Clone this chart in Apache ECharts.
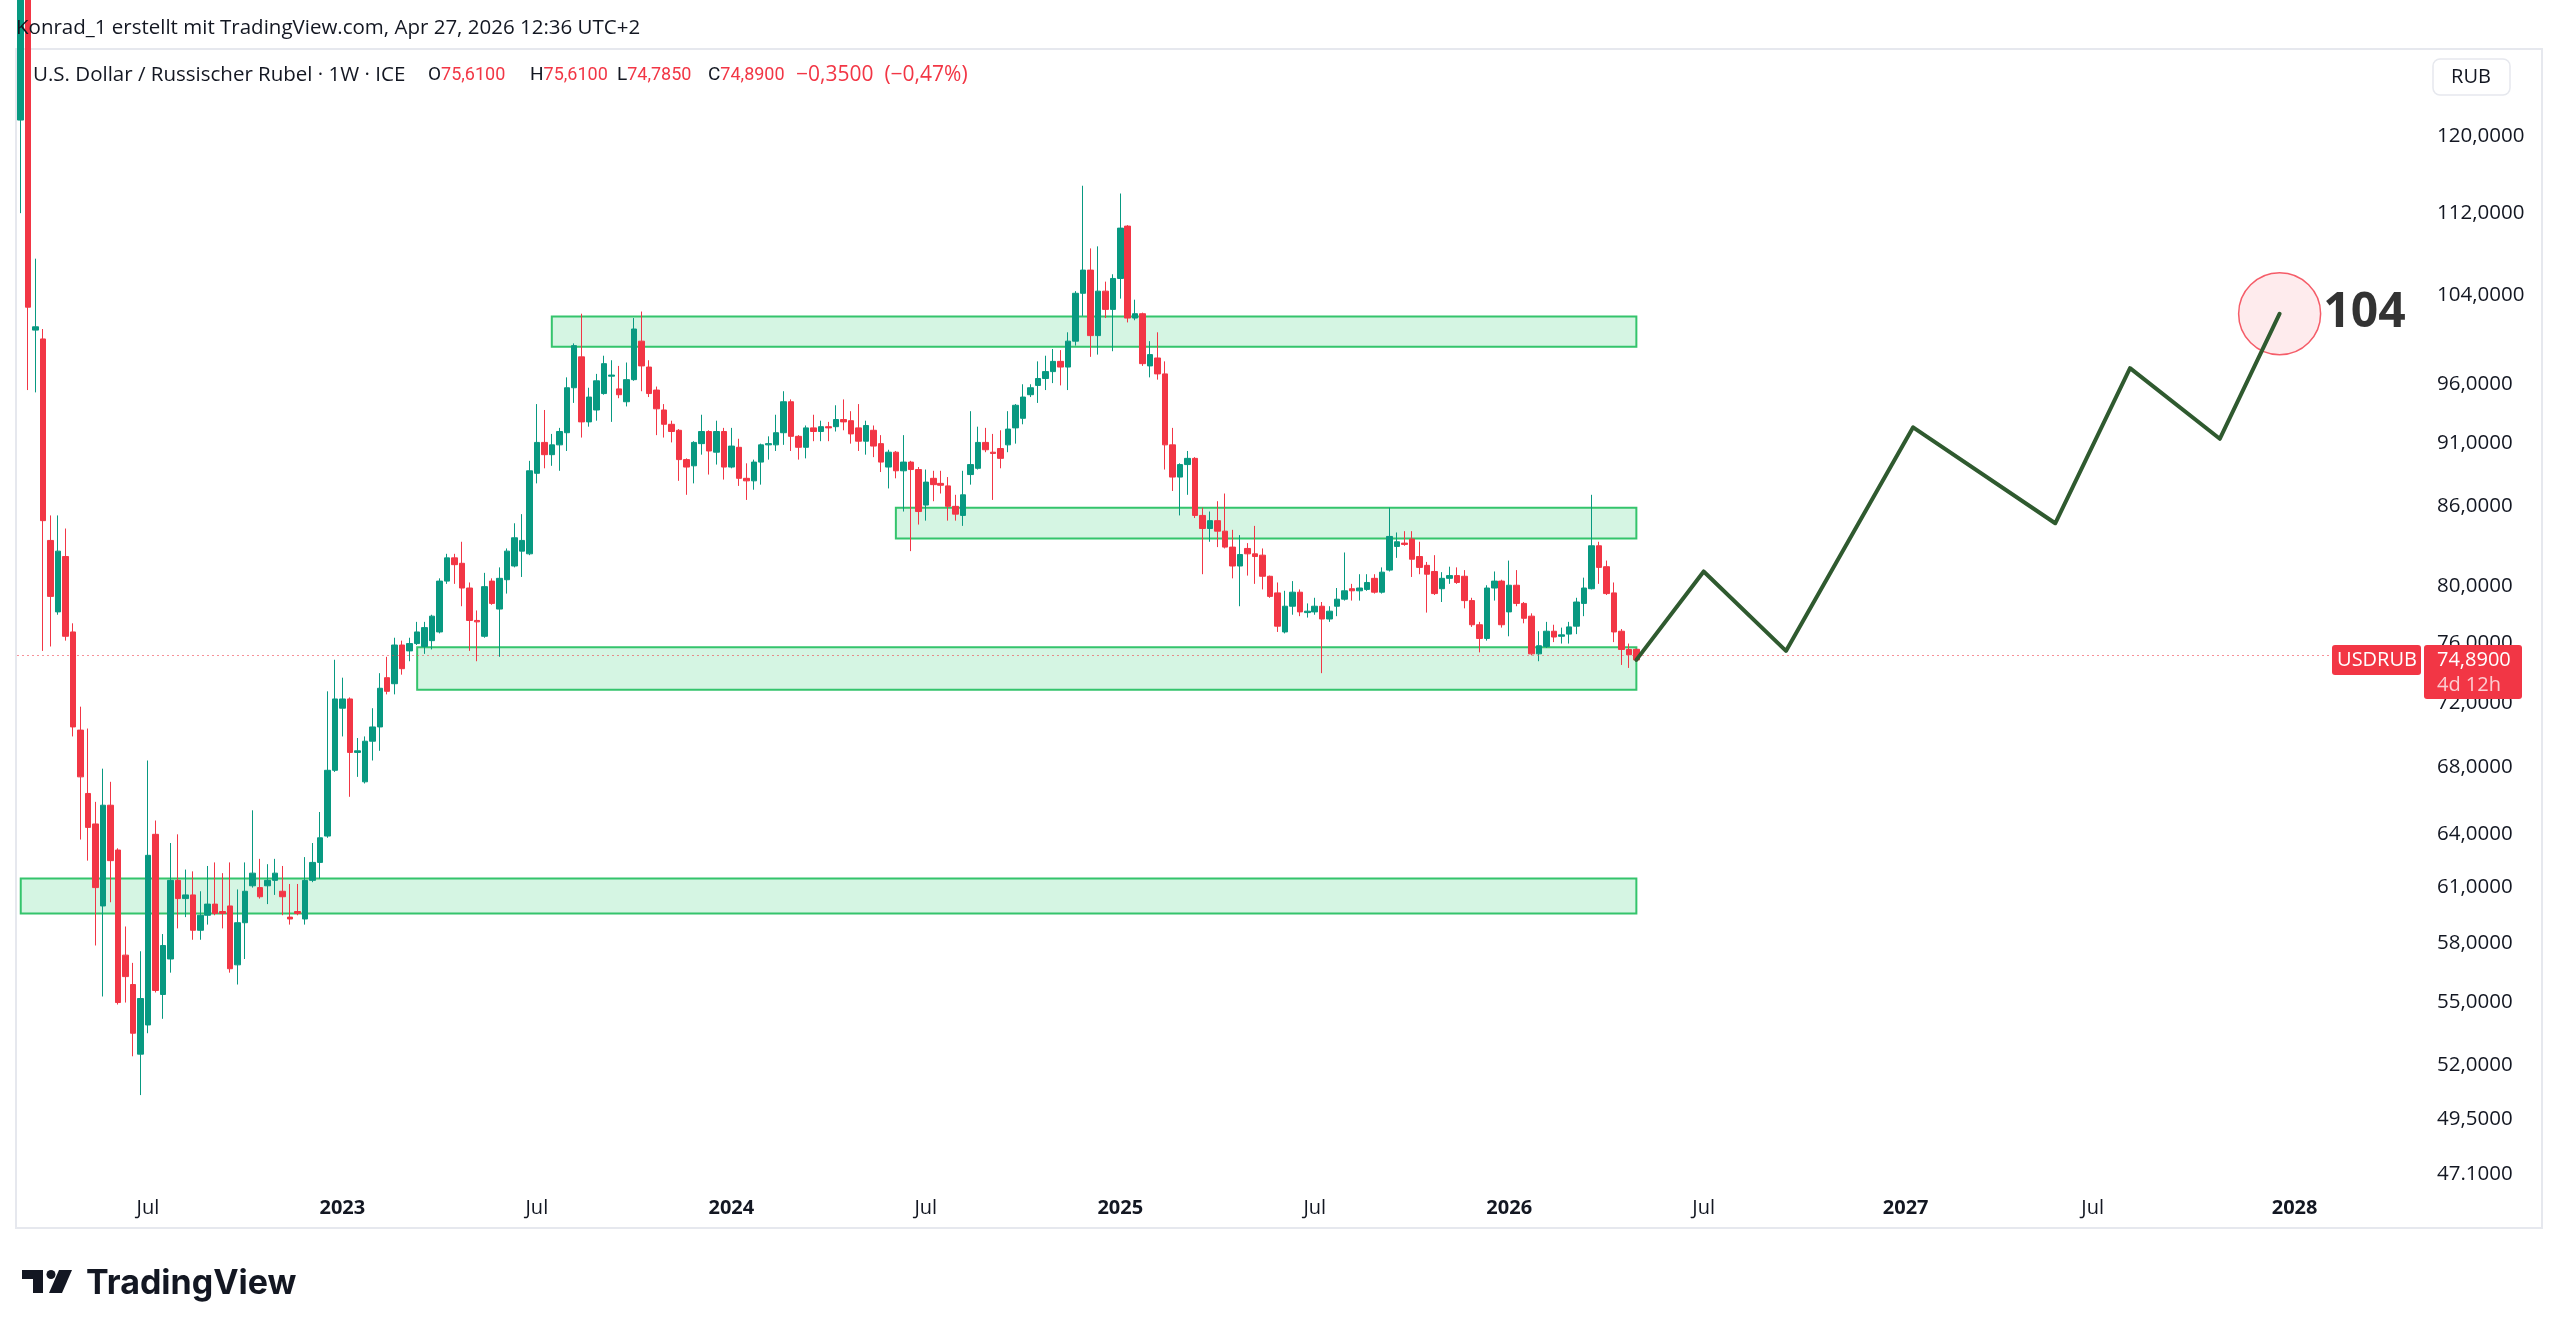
<!DOCTYPE html>
<html lang="de">
<head>
<meta charset="UTF-8">
<title>USDRUB 1W</title>
<script src="https://cdn.jsdelivr.net/npm/echarts@6/dist/echarts.min.js"></script>
<style>
  html, body { margin: 0; padding: 0; background: #fff; }
  #main { width: 2560px; height: 1337px; }
</style>
</head>
<body>
<div id="main"></div>
<script>
// weekly candles, first bar = week of 7 Mar 2022, last = week of 27 Apr 2026
var opens = [121.8,136,100.8,100.0,83.4,78.2,82.2,76.8,70.3,66.4,64.6,60.0,65.7,63.1,57.4,55.9,52.5,53.9,64.0,55.4,
  57.2,61.4,60.4,60.6,58.7,59.5,60.1,59.7,60.0,56.9,59.1,61.1,61.0,61.1,61.4,60.8,59.4,59.7,59.3,61.4,
  62.4,63.9,67.8,71.7,72.3,68.9,67.1,69.6,70.5,73.7,73.3,75.9,75.5,76.0,75.8,76.2,76.8,80.4,82.1,81.7,
  79.9,77.6,76.5,80.4,78.4,80.5,81.5,82.6,82.4,88.6,91.1,90.1,90.9,91.9,95.7,98.4,92.8,93.8,95.2,96.7,
  95.6,94.5,96.4,99.8,97.5,95.5,93.8,92.6,92.1,89.7,89.2,91.0,92.0,90.3,92.0,89.1,90.7,88.2,88.0,89.5,
  90.9,90.9,91.9,94.5,91.6,90.7,92.3,92.0,92.4,92.4,93.0,92.9,92.3,91.2,92.1,91.0,89.1,90.3,88.8,89.5,
  88.9,86.1,88.2,87.8,87.6,86.0,85.3,88.5,89.0,91.1,90.3,90.6,90.9,92.3,93.1,95.1,95.9,96.5,97.1,98.0,
  97.5,99.8,104.2,106.4,100.3,104.4,102.7,105.6,110.7,101.9,102.3,97.6,98.3,96.9,90.9,88.3,89.3,89.8,85.3,84.3,
  84.9,84.1,82.9,81.5,82.8,82.4,82.3,80.75,79.55,76.8,78.6,79.6,78.15,78.2,78.6,77.7,78.6,79.1,79.85,79.7,
  79.8,80.6,79.6,81.2,82.95,83.2,83.5,82.2,81.55,81.1,79.85,80.6,80.8,80.75,79.0,77.3,76.35,79.9,80.4,78.2,
  80.1,78.8,77.9,75.3,75.8,76.85,76.5,76.65,77.2,78.8,79.85,83.0,81.45,79.55,76.85,75.6,75.61];
var closes = [136,102.9,101.1,84.9,79.3,82.6,76.5,70.5,67.4,64.4,61.0,65.7,62.5,55.0,56.3,53.5,55.2,62.8,55.6,57.9,
  61.4,60.4,60.6,58.7,59.5,60.1,59.6,59.6,56.7,59.1,60.8,61.8,60.5,61.4,61.8,60.5,59.3,59.6,61.4,62.4,
  63.8,67.8,72.3,72.3,68.9,69.0,69.6,70.5,73.0,72.8,75.9,74.3,76.0,76.8,77.1,77.9,80.4,82.1,81.6,79.9,
  77.6,77.5,80.0,78.8,80.6,82.6,83.6,83.4,88.8,91.1,90.1,90.9,92.0,95.7,99.4,92.8,94.9,96.3,97.8,96.8,
  95.1,96.4,100.9,97.6,95.2,93.9,92.6,92.0,89.7,89.1,91.1,92.0,90.4,92.0,89.1,90.8,88.2,88.0,89.5,90.9,
  91.0,91.9,94.5,91.6,90.7,92.3,92.0,92.4,92.3,93.0,92.8,91.8,91.2,92.5,90.8,89.5,90.3,88.8,89.5,88.9,
  85.6,87.9,87.7,87.65,86.0,85.4,86.9,89.3,91.1,90.5,90.2,89.8,92.2,94.2,94.9,95.7,96.5,97.1,98.0,97.5,
  99.8,104.2,106.4,100.3,104.4,102.7,105.6,110.5,101.9,102.3,97.8,98.6,96.9,90.9,88.3,89.3,89.8,85.3,84.3,84.9,
  84.1,82.9,81.5,82.35,82.4,82.2,80.75,79.3,77.2,78.6,79.6,78.2,78.25,78.6,77.7,78.25,79.1,79.7,79.7,79.9,
  80.3,79.6,81.05,83.7,83.3,83.1,82.0,81.4,80.9,79.5,80.6,80.8,80.3,79.0,77.3,76.35,79.9,80.4,77.3,80.1,
  78.8,77.75,75.3,75.85,76.85,76.45,76.6,77.15,78.9,79.9,83.0,81.4,79.5,76.8,75.6,75.24,74.89];
var highs = [150,140,107.5,100.9,85.3,85.3,84.3,77.4,71.8,70.4,65.9,67.9,67.1,63.2,58.9,57.0,57.6,68.4,64.8,58.5,
  63.5,64.0,62.0,61.9,60.8,62.2,62.4,61.8,62.4,60.9,62.4,65.4,62.6,62.3,62.6,62.2,61.2,61.2,62.7,63.5,
  65.3,72.8,74.9,73.7,72.4,69.8,69.9,71.7,74.0,75.1,76.4,76.2,76.4,77.5,77.5,78.0,80.6,82.4,82.4,83.3,
  80.3,78.3,81.0,80.6,81.4,82.8,84.7,85.4,89.6,94.3,93.8,91.8,92.3,96.6,99.6,102.3,95.7,96.9,98.5,98.1,
  97.6,97.9,101.9,102.5,98.1,95.8,94.3,92.9,92.2,89.8,91.2,93.4,92.1,92.9,92.3,92.3,91.4,89.4,89.7,91.0,
  91.6,93.4,95.4,94.7,91.7,92.5,93.4,92.9,92.8,94.2,94.7,93.7,94.3,92.9,92.5,91.7,90.5,90.4,91.7,89.6,
  89.1,88.9,88.8,88.8,88.3,86.9,88.8,93.7,92.4,92.3,91.8,92.1,93.7,94.3,96.0,96.0,98.0,98.5,99.1,99.0,
  100.6,104.4,114.8,108.5,108.7,105.3,106.0,114.0,110.8,103.6,102.4,99.8,100.6,98.0,92.3,89.4,90.4,89.9,85.9,85.6,
  86.4,87.0,84.2,83.8,83.2,84.5,82.8,80.8,80.3,79.7,80.4,79.8,78.8,79.2,78.9,78.6,79.9,82.5,80.2,80.9,
  80.9,80.9,81.4,85.9,84.0,84.1,84.1,83.3,81.8,82.3,81.05,81.45,81.4,81.2,79.2,77.5,80.1,81.1,80.5,81.9,
  81.2,78.9,78.1,76.85,77.5,77.3,77.1,77.5,79.2,80.65,86.9,83.3,81.9,80.3,77.0,76.0,75.61];
var lows = [112.0,95.5,95.3,75.5,75.8,78.0,76.2,69.9,63.7,62.5,57.9,55.3,60.2,54.9,55.0,52.4,50.6,53.5,55.5,54.2,
  56.5,58.8,59.4,58.2,58.2,59.0,59.5,58.8,56.5,55.9,57.2,61.0,60.4,60.1,60.6,59.5,59.0,59.5,59.0,61.3,
  61.5,63.8,67.7,69.9,66.2,67.4,67.0,68.4,69.0,72.6,72.6,73.9,74.8,75.9,75.3,75.6,76.7,80.2,80.2,78.6,
  75.5,74.8,76.4,78.7,75.1,79.5,81.4,80.7,82.3,87.8,89.0,89.2,88.8,90.4,94.4,91.5,92.4,92.9,95.1,92.8,
  94.8,94.1,96.3,95.4,94.9,91.7,91.5,91.1,88.0,86.9,87.8,90.1,88.5,89.3,88.1,89.0,87.6,86.5,87.3,87.7,
  89.7,90.4,90.9,90.4,89.7,89.8,91.2,91.2,91.2,92.0,92.1,91.0,90.4,90.1,89.9,88.7,87.4,88.2,85.6,82.6,
  84.6,84.9,86.4,87.0,84.9,84.9,84.5,87.7,88.9,90.3,86.5,89.0,90.3,91.0,92.6,94.9,94.4,95.5,96.1,95.9,
  95.5,99.4,102.1,98.4,98.6,101.9,98.9,103.7,101.5,101.7,97.6,96.6,96.4,88.9,87.2,85.3,86.9,85.1,80.9,83.3,
  82.9,82.8,80.6,78.6,80.8,80.2,79.8,79.2,76.8,76.7,78.0,77.9,77.8,78.0,74.0,77.5,77.9,79.0,79.0,79.0,
  79.7,79.5,79.5,81.1,82.1,83.0,80.7,80.9,78.15,79.4,78.9,80.2,80.2,78.45,77.15,75.4,76.2,79.0,77.1,76.5,
  78.6,77.4,75.2,74.8,75.7,76.1,76.0,76.0,76.65,77.9,79.8,80.2,79.4,76.1,74.55,74.35,74.785];

// price scale labels (log scale)
var tickValues = [120, 112, 104, 96, 91, 86, 80, 76, 72, 68, 64, 61, 58, 55, 52, 49.5, 47.1];
var tickLabels = ['120,0000','112,0000','104,0000','96,0000','91,0000','86,0000','80,0000','76,0000',
  '72,0000','68,0000','64,0000','61,0000','58,0000','55,0000','52,0000','49,5000','47.1000'];

// green zones: start week, end week, low, high
var zoneStart = [71, 117, 53, 0];
var zoneEnd = [216, 216, 216, 216];
var zoneLow = [99.3, 83.55, 72.9, 59.6];
var zoneHigh = [102.05, 85.9, 75.75, 61.5];

// projected path (week index, price)
var projWeeks = [216, 225, 236, 253, 272, 282, 294, 302];
var projPrices = [74.89, 81.1, 75.5, 92.35, 84.7, 97.4, 91.4, 102.3];

var lastPrice = 74.89;
var totalWeeks = 321;
var startMonday = Date.UTC(2022, 2, 7);
var DAY = 86400000;

var cats = [];
var labelText = [];
for (var i = 0; i < totalWeeks; i++) {
  var t = startMonday + i * 7 * DAY;
  var d = new Date(t);
  cats.push(d.toISOString().slice(0, 10));
  // label on the bar whose monday is nearest to the 1st of Jan / Jul
  var m = new Date(t + 3 * DAY);
  var first = Date.UTC(m.getUTCFullYear(), m.getUTCMonth(), 1);
  var diff = (first - t) / DAY;
  var txt = '';
  if (diff >= -3 && diff <= 3) {
    if (m.getUTCMonth() === 0) txt = '{y|' + m.getUTCFullYear() + '}';
    else if (m.getUTCMonth() === 6) txt = 'Jul';
  }
  labelText.push(txt);
}

var candles = [];
for (var i = 0; i < opens.length; i++) {
  var o = opens[i], c = closes[i];
  var h = Math.max(highs[i], o, c), l = Math.min(lows[i], o, c);
  candles.push([Math.log(o), Math.log(c), Math.log(l), Math.log(h)]);
}

var zones = [];
for (var z = 0; z < zoneStart.length; z++) {
  zones.push([
    { xAxis: cats[zoneStart[z]], yAxis: Math.log(zoneHigh[z]) },
    { xAxis: cats[zoneEnd[z]], yAxis: Math.log(zoneLow[z]) }
  ]);
}

var proj = projWeeks.map(function (w, k) { return [w, Math.log(projPrices[k])]; });
var target = [[projWeeks[projWeeks.length - 1], Math.log(projPrices[projPrices.length - 1])]];

var FONT = '"Open Sans", Roboto, sans-serif';
var NUMFONT = 'Roboto, "Open Sans", sans-serif';
var UP = '#089981', DOWN = '#F23645', INK = '#131722';

// legend line pieces: x position, black letter, red value
var legendX = [428, 530, 617, 708, 796];
var legendKey = ['O', 'H', 'L', 'C', ''];
var legendVal = ['75,6100', '75,6100', '74,7850', '74,8900', '−0,3500  (−0,47%)'];

var chart = echarts.init(document.getElementById('main'));

var titles = [
  { text: 'Konrad_1 erstellt mit TradingView.com, Apr 27, 2026 12:36 UTC+2', left: 16, top: 16, padding: 0,
    textStyle: { color: INK, fontSize: 20.5, fontWeight: 'normal', fontFamily: FONT, lineHeight: 24 } },
  { text: 'U.S. Dollar / Russischer Rubel · 1W · ICE', left: 33, top: 63, padding: 0,
    textStyle: { color: INK, fontSize: 20.5, fontWeight: 'normal', fontFamily: FONT, lineHeight: 24 } }
];
legendX.forEach(function (x, k) {
  var last = k === legendX.length - 1;
  titles.push({
    text: (legendKey[k] ? '{k|' + legendKey[k] + '}' : '') + '{r|' + legendVal[k] + '}',
    left: x, top: 63, padding: 0,
    textStyle: { fontWeight: 'normal', rich: {
      k: { color: INK, fontSize: 19, fontFamily: NUMFONT, lineHeight: 24, fontWeight: 'normal' },
      r: { color: DOWN, fontSize: last ? 21 : 18, fontFamily: last ? FONT : NUMFONT, lineHeight: 24, fontWeight: 'normal' }
    } }
  });
});

var staticGraphics = [
  { type: 'rect', shape: { x: 16, y: 49, width: 2526, height: 1179 },
    style: { fill: 'none', stroke: '#e6e8ee', lineWidth: 2 }, silent: true, z: 1 },
  { type: 'rect', shape: { x: 2433, y: 59, width: 77, height: 36, r: 7 },
    style: { fill: '#fff', stroke: '#e6e8ee', lineWidth: 1.5 }, z: 10 },
  { type: 'text', style: { x: 2471, y: 77, text: 'RUB', fill: INK, font: '20px ' + FONT,
    align: 'center', verticalAlign: 'middle' }, z: 11 },
  // TradingView logo
  { type: 'polygon', shape: { points: [[22,1270],[43,1270],[43,1293],[33,1293],[33,1279],[22,1279]] },
    style: { fill: INK } },
  { type: 'circle', shape: { cx: 51, cy: 1274.5, r: 4.5 }, style: { fill: INK } },
  { type: 'polygon', shape: { points: [[59,1270],[72,1270],[62,1293],[49,1293]] },
    style: { fill: INK } },
  { type: 'text', style: { x: 86, y: 1284, text: 'TradingView', fill: INK,
    font: 'bold 34px Inter, Roboto, sans-serif', verticalAlign: 'middle' } }
];

chart.setOption({
  animation: false,
  backgroundColor: '#ffffff',
  title: titles,
  grid: { left: 17, right: 142, top: 50, bottom: 145, containLabel: false },
  xAxis: {
    type: 'category',
    data: cats,
    boundaryGap: true,
    axisLine: { show: false },
    axisTick: { show: false },
    splitLine: { show: false },
    axisLabel: {
      interval: function (idx) { return labelText[idx] !== ''; },
      formatter: function (v, idx) { return labelText[idx]; },
      color: INK,
      fontSize: 20,
      fontFamily: FONT,
      margin: 6,
      rich: { y: { fontWeight: 'bold', fontSize: 20, fontFamily: FONT, color: INK } }
    }
  },
  yAxis: {
    type: 'value',
    position: 'right',
    min: 3.83664,
    max: 4.86549,
    axisLine: { show: false },
    axisTick: { show: false },
    splitLine: { show: false },
    axisLabel: {
      customValues: tickValues.map(Math.log),
      formatter: function (v) {
        for (var k = 0; k < tickValues.length; k++) {
          if (Math.abs(Math.log(tickValues[k]) - v) < 1e-6) return tickLabels[k];
        }
        return '';
      },
      color: INK,
      fontSize: 20.5,
      fontFamily: FONT,
      margin: 19
    }
  },
  series: [
    {
      type: 'candlestick',
      data: candles,
      barWidth: 6,
      itemStyle: { color: UP, color0: DOWN, borderColor: UP, borderColor0: DOWN, borderWidth: 1 },
      markArea: {
        silent: true,
        itemStyle: { color: 'rgba(46,204,113,0.2)', borderColor: '#34c46c', borderWidth: 2 },
        data: zones
      },
      markLine: {
        silent: true,
        symbol: ['none', 'none'],
        label: { show: false },
        lineStyle: { color: DOWN, type: [2, 3], width: 1, opacity: 0.55 },
        data: [{ yAxis: Math.log(lastPrice) }]
      },
      z: 3
    },
    {
      type: 'line',
      data: proj,
      symbol: 'none',
      lineStyle: { color: '#2f5a2f', width: 4, cap: 'round', join: 'round' },
      z: 5
    },
    {
      type: 'scatter',
      data: target,
      symbol: 'circle',
      symbolSize: 82,
      itemStyle: { color: 'rgba(242,54,69,0.12)', borderColor: DOWN, borderWidth: 1.5 },
      label: { show: true, position: 'right', distance: 2, formatter: '104',
        color: '#000', fontSize: 48, fontWeight: 'bold', fontFamily: FONT },
      z: 4
    }
  ],
  graphic: staticGraphics
});

// price tags on the price scale
var yPx = chart.convertToPixel({ yAxisIndex: 0 }, Math.log(lastPrice));
var tags = [
  { type: 'rect', shape: { x: 2332, y: yPx - 15, width: 89, height: 30, r: 3 }, style: { fill: DOWN }, z: 20 },
  { type: 'text', style: { x: 2377, y: yPx, text: 'USDRUB', fill: '#fff', font: '20px ' + FONT,
    align: 'center', verticalAlign: 'middle' }, z: 21 },
  { type: 'rect', shape: { x: 2424, y: yPx - 15, width: 98, height: 54, r: 3 }, style: { fill: DOWN }, z: 20 },
  { type: 'text', style: { x: 2437, y: yPx, text: '74,8900', fill: '#fff', font: '20px ' + FONT,
    verticalAlign: 'middle' }, z: 21 },
  { type: 'text', style: { x: 2437, y: yPx + 25, text: '4d 12h', fill: 'rgba(255,255,255,0.75)', font: '20px ' + FONT,
    verticalAlign: 'middle' }, z: 21 }
];
chart.setOption({ graphic: staticGraphics.concat(tags) });
</script>
</body>
</html>
